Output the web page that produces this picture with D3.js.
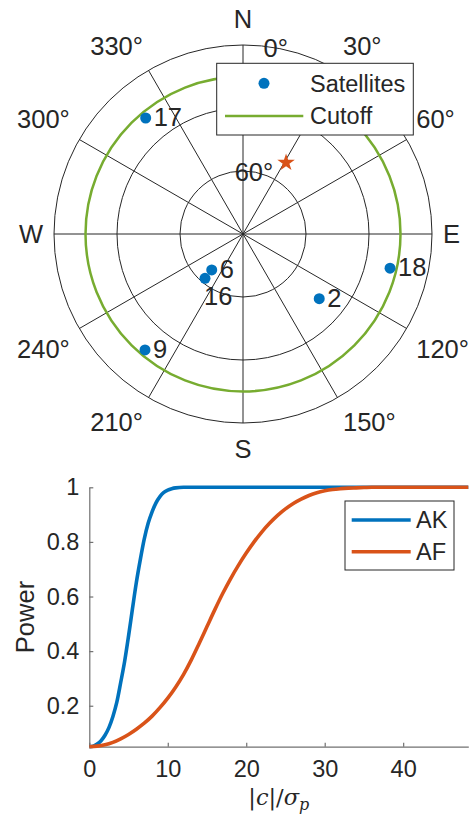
<!DOCTYPE html>
<html><head><meta charset="utf-8">
<script src="https://cdn.jsdelivr.net/npm/d3@7"></script>
<style>
body{margin:0;background:#fff}
svg{display:block}
text{font-family:"Liberation Sans",Arial,Helvetica,sans-serif;fill:#262626}
</style>
</head><body>
<svg id="c" width="470" height="818"></svg>
<script>
// ---------- DATA ----------
const satIds = [2, 6, 9, 16, 17, 18];
const satAz  = [130.3, 221, 220.2, 220.6, 320, 103.1];
const satEl  = [42.4, 67.3, 17.7, 62.2, 17.9, 18.1];
const starAz = [31.1];
const starEl = [50.3];
const cutoffEl = [15];
const elevTicks = [60, 30, 0];
const elevTickLabels = ["60°", "30°", "0°"];
const azTicks = [0, 30, 60, 90, 120, 150, 180, 210, 240, 270, 300, 330];
const azTickLabels = ["N", "30°", "60°", "E", "120°", "150°", "S", "210°", "240°", "W", "300°", "330°"];
const polarLegend = ["Satellites", "Cutoff"];

const akX = [0,0.5,1,1.5,2,2.5,3,3.5,4,4.5,5,5.5,6,6.5,7,7.5,8,8.5,9,9.5,10,10.5,11,12,15,20,30,40,48.3];
const akY = [0.050,0.052,0.060,0.072,0.092,0.120,0.160,0.212,0.285,0.362,0.455,0.555,0.652,0.735,0.810,0.868,0.910,0.943,0.966,0.981,0.990,0.995,0.998,1,1,1,1,1,1];
const afX = [0,1,2,3,4,5,6,7,8,9,10,11,12,13,14,15,16,17,18,19,20,21,22,23,24,25,26,27,28,29,30,31,32,33,34,35,36,40,48.3];
const afY = [0.050,0.052,0.057,0.066,0.079,0.095,0.114,0.136,0.162,0.193,0.228,0.268,0.314,0.368,0.428,0.490,0.552,0.611,0.665,0.714,0.759,0.800,0.837,0.869,0.897,0.921,0.941,0.957,0.970,0.980,0.987,0.992,0.995,0.997,0.998,0.999,1,1,1];
const seriesNames = ["AK", "AF"];
const xTicks = [0, 10, 20, 30, 40];
const yTicks = [0.2, 0.4, 0.6, 0.8, 1];
const yTickLabels = ["0.2", "0.4", "0.6", "0.8", "1"];
const xDomain = [0, 48.3];
const yDomain = [0.05, 1];

// ---------- STYLE ----------
const BLUE = "#0072BD", ORANGE = "#D95319", GREEN = "#77AC30", INK = "#262626";
const svg = d3.select("#c");

// ---------- POLAR (SKYPLOT) ----------
const cx = 243, cy = 234, R = 189;
const rScale = d3.scaleLinear().domain([90, 0]).range([0, R]);
const rad = d => d * Math.PI / 180;
const px = (az, el) => cx + rScale(el) * Math.sin(rad(az));
const py = (az, el) => cy - rScale(el) * Math.cos(rad(az));
const PFS = 25.5;

const gP = svg.append("g");
gP.selectAll("line.spoke").data(azTicks).join("line")
  .attr("x1", cx).attr("y1", cy)
  .attr("x2", d => px(d, 0)).attr("y2", d => py(d, 0))
  .attr("stroke", INK).attr("stroke-width", 1);
gP.selectAll("circle.ring").data(elevTicks).join("circle")
  .attr("cx", cx).attr("cy", cy).attr("r", d => rScale(d))
  .attr("fill", "none").attr("stroke", INK).attr("stroke-width", 1);
const thetaR = 200;
gP.selectAll("text.az").data(azTicks).join("text")
  .attr("x", d => cx + thetaR * Math.sin(rad(d)))
  .attr("y", d => {
    const c = Math.cos(rad(d));
    const s = Math.abs(c) < 0.01 ? 0 : Math.sign(c);
    return cy - thetaR * c - 15 * s;
  })
  .attr("dy", "0.35em")
  .attr("text-anchor", d => {
    const s = Math.sin(rad(d));
    return s > 0.01 ? "start" : (s < -0.01 ? "end" : "middle");
  })
  .attr("font-size", PFS)
  .text((d, i) => azTickLabels[i]);
gP.selectAll("circle.cut").data(cutoffEl).join("circle")
  .attr("cx", cx).attr("cy", cy).attr("r", d => rScale(d))
  .attr("fill", "none").attr("stroke", GREEN).attr("stroke-width", 2.5);
gP.selectAll("text.el").data(elevTicks).join("text")
  .attr("x", d => px(10, d)).attr("y", d => py(10, d))
  .attr("dy", "0.35em").attr("text-anchor", "middle")
  .attr("font-size", PFS)
  .text((d, i) => elevTickLabels[i]);
const sats = satIds.map((id, i) => ({id, az: satAz[i], el: satEl[i], x: px(satAz[i], satEl[i]), y: py(satAz[i], satEl[i])}));
gP.selectAll("circle.sat").data(sats).join("circle")
  .attr("cx", d => d.x).attr("cy", d => d.y).attr("r", 5.5)
  .attr("fill", BLUE);
const placed = [];
const fs = PFS;
sats.forEach(d => {
  const w = String(d.id).length * fs * 0.556;
  const box = {x0: d.x + 8, x1: d.x + 8 + w, y0: d.y - fs * 0.36, y1: d.y + fs * 0.36};
  const hit = placed.some(p => !(box.x1 < p.x0 || box.x0 > p.x1 || box.y1 < p.y0 || box.y0 > p.y1));
  let tx = d.x + 8, ty = d.y - 1;
  if (hit) { tx = d.x - 1; ty = d.y + 18; }
  placed.push({x0: tx, x1: tx + w, y0: ty - fs * 0.36, y1: ty + fs * 0.36});
  gP.append("text").attr("x", tx).attr("y", ty).attr("dy", "0.35em")
    .attr("font-size", fs).text(d.id);
});
gP.selectAll("path.star").data(starAz.map((a, i) => ({az: a, el: starEl[i]}))).join("path")
  .attr("d", d3.symbol(d3.symbolStar, 95))
  .attr("transform", d => `translate(${px(d.az, d.el)},${py(d.az, d.el)})`)
  .attr("fill", ORANGE);
const lg = svg.append("g").attr("transform", "translate(216.7,63.3)");
lg.append("rect").attr("width", 196.6).attr("height", 71.7)
  .attr("fill", "#fff").attr("stroke", INK).attr("stroke-width", 1);
lg.append("circle").attr("cx", 47.3).attr("cy", 20).attr("r", 5.5).attr("fill", BLUE);
lg.append("line").attr("x1", 8.3).attr("x2", 86.6).attr("y1", 52.7).attr("y2", 52.7)
  .attr("stroke", GREEN).attr("stroke-width", 2.5);
lg.selectAll("text").data(polarLegend).join("text")
  .attr("x", 93.3).attr("y", (d, i) => 20 + i * 32.7).attr("dy", "0.35em")
  .attr("font-size", 23.5).text(d => d);

// ---------- LINE CHART ----------
const x = d3.scaleLinear().domain(xDomain).range([89.3, 468.3]);
const y = d3.scaleLinear().domain(yDomain).range([746.7, 487.3]);
const gL = svg.append("g");

const line = d3.line().x(d => x(d[0])).y(d => y(d[1])).curve(d3.curveMonotoneX);
const series = [
  {name: seriesNames[0], color: BLUE, pts: akX.map((v, i) => [v, akY[i]])},
  {name: seriesNames[1], color: ORANGE, pts: afX.map((v, i) => [v, afY[i]])}
];

const xAxis = d3.axisBottom(x).tickValues(xTicks).tickSize(-4).tickPadding(14).tickSizeOuter(0);
const yAxis = d3.axisLeft(y).tickValues(yTicks).tickFormat((d, i) => yTickLabels[i]).tickSize(-4).tickPadding(10).tickSizeOuter(0);
const gx = gL.append("g").attr("transform", `translate(0,${y.range()[0]})`).call(xAxis);
const gy = gL.append("g").attr("transform", `translate(${x.range()[0]},0)`).call(yAxis);
[gx, gy].forEach(g => {
  g.select(".domain").attr("stroke", "#707070").attr("stroke-width", 1.2);
  g.selectAll(".tick line").attr("stroke", "#707070").attr("stroke-width", 1.2);
  g.selectAll(".tick text").attr("font-size", 23.5).attr("fill", INK)
    .attr("font-family", '"Liberation Sans",Arial,sans-serif');
});

gL.selectAll("path.series").data(series).join("path")
  .attr("d", d => line(d.pts)).attr("fill", "none")
  .attr("stroke", d => d.color).attr("stroke-width", 3.6);

gL.append("text").attr("transform", `translate(25,${(y.range()[0] + y.range()[1]) / 2}) rotate(-90)`)
  .attr("text-anchor", "middle").attr("dy", "0.35em").attr("font-size", 25.5).text("Power");
const xl = gL.append("text").attr("x", (x.range()[0] + x.range()[1]) / 2).attr("y", 805)
  .attr("text-anchor", "middle").attr("font-size", 22.5)
  .style("font-family", '"DejaVu Serif","Liberation Serif",serif');
xl.append("tspan").text("|");
xl.append("tspan").attr("font-style", "italic").text("c");
xl.append("tspan").text("|/");
xl.append("tspan").attr("font-style", "italic").text("σ");
xl.append("tspan").attr("font-style", "italic").attr("font-size", 16).attr("dy", 5).text("p");

const lg2 = svg.append("g").attr("transform", "translate(345,501)");
lg2.append("rect").attr("width", 109).attr("height", 69)
  .attr("fill", "#fff").attr("stroke", INK).attr("stroke-width", 1);
lg2.selectAll("line").data(series).join("line")
  .attr("x1", 6.7).attr("x2", 65.7).attr("y1", (d, i) => 19 + i * 31.7).attr("y2", (d, i) => 19 + i * 31.7)
  .attr("stroke", d => d.color).attr("stroke-width", 3.6);
lg2.selectAll("text").data(series).join("text")
  .attr("x", 71).attr("y", (d, i) => 19 + i * 31.7).attr("dy", "0.35em")
  .attr("font-size", 23.5).text(d => d.name);
</script>
</body></html>
